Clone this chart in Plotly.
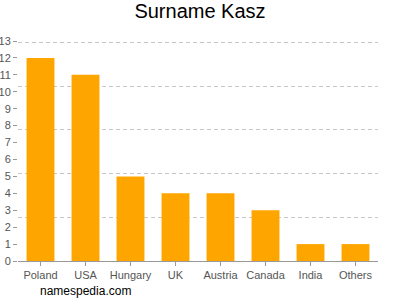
import plotly.graph_objects as go

countries = ["Poland", "USA", "Hungary", "UK", "Austria", "Canada", "India", "Others"]
counts = [12, 11, 5, 4, 4, 3, 1, 1]
y_ticks = list(range(0, 14))
grid_vals = [2.6, 5.2, 7.8, 10.4, 13]

fig = go.Figure()
fig.add_trace(go.Bar(x=countries, y=counts, marker_color="#FFA500", marker_line_width=0))
# invisible trace to host grid axis
fig.add_trace(go.Scatter(x=countries, y=counts, yaxis="y2", mode="none", showlegend=False, hoverinfo="skip"))

fig.update_layout(
    width=400, height=300,
    margin=dict(l=18, r=22, t=41, b=39),
    paper_bgcolor="white", plot_bgcolor="white",
    showlegend=False,
    bargap=0.38,
    title=dict(text="Surname Kasz", x=0.5, xanchor="center", y=0.962, yanchor="middle",
               font=dict(family="Liberation Sans, Arial", size=20, color="#000")),
    font=dict(family="Liberation Sans, Arial", size=11, color="#555"),
    xaxis=dict(showline=True, linecolor="#999", linewidth=1, ticks="outside", ticklen=4,
               tickcolor="#999", showgrid=False, automargin=False,
               tickfont=dict(size=11, color="#555")),
    yaxis=dict(range=[0, 13], tickvals=y_ticks, ticks="outside", ticklen=4, tickcolor="#999",
               showgrid=False, showline=False, zeroline=False, automargin=False,
               tickfont=dict(size=11, color="#555")),
    yaxis2=dict(range=[0, 13.08], overlaying="y", tickvals=grid_vals, showgrid=True,
                gridcolor="#c8c8c8", griddash="4px,3px", gridwidth=1, showticklabels=False,
                zeroline=False, showline=False, automargin=False),
)
fig.add_annotation(text="namespedia.com", xref="paper", yref="paper", x=0.055, y=-0.135,
                   xanchor="left", yanchor="middle", showarrow=False,
                   font=dict(family="Liberation Sans, Arial", size=12, color="#000"))
fig.write_html("out.html")
